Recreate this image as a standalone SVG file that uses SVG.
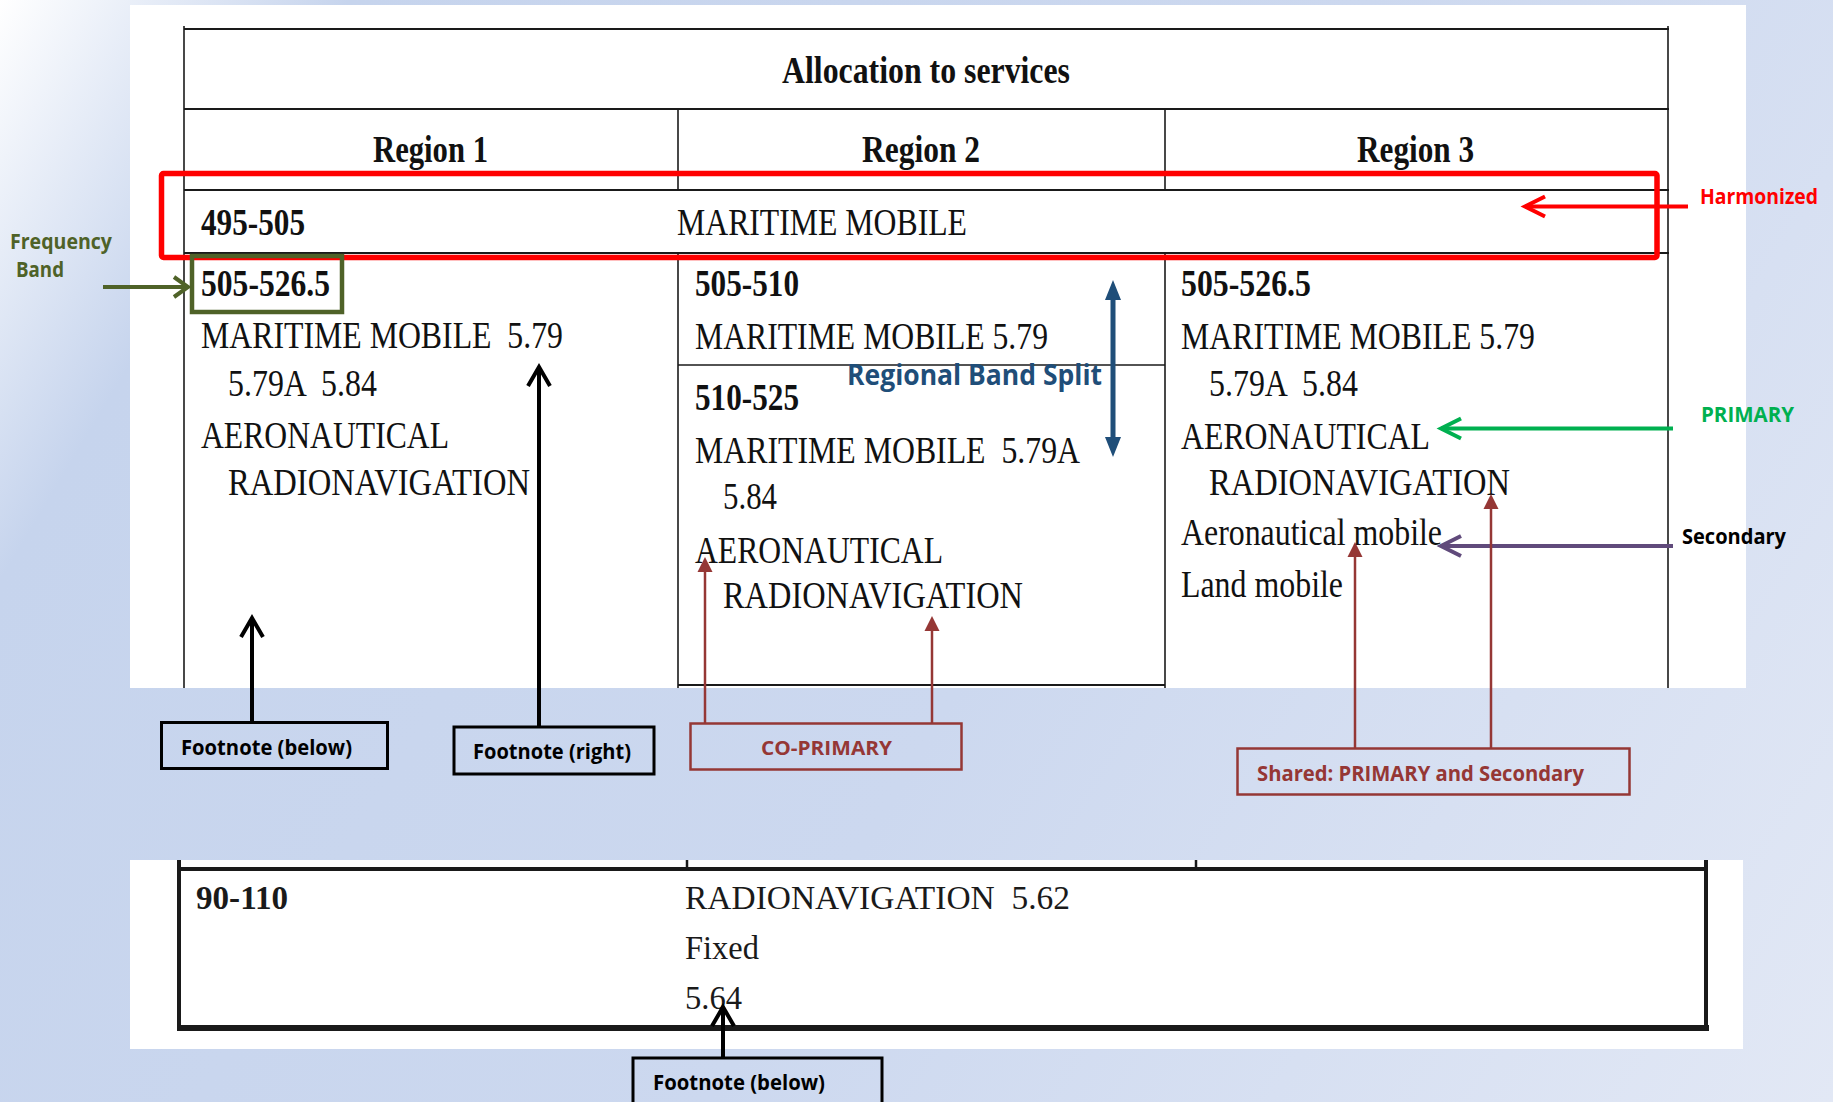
<svg xmlns="http://www.w3.org/2000/svg" width="1833" height="1102" viewBox="0 0 1833 1102" xml:space="preserve">
<style>
.t{font-family:"Liberation Serif","Times New Roman",serif;font-size:38px;fill:#111;white-space:pre}
.lt{font-family:"Liberation Serif","Times New Roman",serif;font-size:34px;fill:#1a1a1a;white-space:pre}
.b{font-weight:bold}
.lbl{font-family:"Open Sans","Liberation Sans",sans-serif;font-weight:bold}
.tl{stroke:#1a1a1a;stroke-width:2;fill:none}
.tv{stroke:#1a1a1a;stroke-width:1.6;fill:none}
.box{fill:none;stroke:#000;stroke-width:3}
.rbox{fill:none;stroke:#953735;stroke-width:2.5}
</style>
<defs>
<linearGradient id="bg" gradientUnits="userSpaceOnUse" x1="0" y1="0" x2="1833" y2="1102">
<stop offset="0" stop-color="#ffffff"/>
<stop offset="0.14" stop-color="#c6d4ed"/>
<stop offset="0.55" stop-color="#ccd8ef"/>
<stop offset="1" stop-color="#e2e8f5"/>
</linearGradient>
<marker id="chRed" markerUnits="userSpaceOnUse" viewBox="-24 -14 28 28" refX="0" refY="0" markerWidth="28" markerHeight="28" orient="auto" overflow="visible"><path d="M-20,-10 L0,0 L-20,10" fill="none" stroke="#ff0000" stroke-width="4"/></marker>
<marker id="chGreen" markerUnits="userSpaceOnUse" viewBox="-24 -14 28 28" refX="0" refY="0" markerWidth="28" markerHeight="28" orient="auto" overflow="visible"><path d="M-20,-10 L0,0 L-20,10" fill="none" stroke="#00b050" stroke-width="4"/></marker>
<marker id="chPurple" markerUnits="userSpaceOnUse" viewBox="-24 -14 28 28" refX="0" refY="0" markerWidth="28" markerHeight="28" orient="auto" overflow="visible"><path d="M-20,-10 L0,0 L-20,10" fill="none" stroke="#604a7b" stroke-width="4"/></marker>
<marker id="chOlive" markerUnits="userSpaceOnUse" viewBox="-24 -14 28 28" refX="0" refY="0" markerWidth="28" markerHeight="28" orient="auto" overflow="visible"><path d="M-14,-10 L0,0 L-14,10" fill="none" stroke="#4f6228" stroke-width="4"/></marker>
<marker id="chBlack" markerUnits="userSpaceOnUse" viewBox="-24 -14 28 28" refX="0" refY="0" markerWidth="28" markerHeight="28" orient="auto" overflow="visible"><path d="M-19,-11 L0,0 L-19,11" fill="none" stroke="#000" stroke-width="4"/></marker>
<marker id="triRed" markerUnits="userSpaceOnUse" viewBox="-10 -10 24 20" refX="0" refY="0" markerWidth="24" markerHeight="20" orient="auto" overflow="visible"><path d="M-5,-7.5 L10,0 L-5,7.5 Z" fill="#953735"/></marker>
<marker id="triBlue" markerUnits="userSpaceOnUse" viewBox="-10 -10 24 20" refX="0" refY="0" markerWidth="24" markerHeight="20" orient="auto-start-reverse" overflow="visible"><path d="M-8,-8 L12,0 L-8,8 Z" fill="#1f4e79"/></marker>
</defs>

<rect x="0" y="0" width="1833" height="1102" fill="url(#bg)"/>
<rect x="130" y="5" width="1616" height="683" fill="#ffffff"/>
<rect x="130" y="860" width="1613" height="189" fill="#ffffff"/>

<g id="allocation-table">
<line class="tl" x1="184" y1="29" x2="1669" y2="29"/>
<line class="tl" x1="184" y1="109" x2="1669" y2="109"/>
<line class="tl" x1="184" y1="190" x2="1669" y2="190"/>
<line class="tl" x1="184" y1="253" x2="1669" y2="253"/>
<line class="tv" x1="678" y1="365" x2="1165" y2="365"/>
<line class="tl" x1="678" y1="685" x2="1165" y2="685"/>
<line class="tv" x1="184" y1="26" x2="184" y2="688"/>
<line class="tv" x1="1668" y1="26" x2="1668" y2="688"/>
<line class="tv" x1="678" y1="109" x2="678" y2="190"/>
<line class="tv" x1="1165" y1="109" x2="1165" y2="190"/>
<line class="tv" x1="678" y1="253" x2="678" y2="688"/>
<line class="tv" x1="1165" y1="253" x2="1165" y2="688"/>
<text class="t b" x="782" y="83" textLength="288" lengthAdjust="spacingAndGlyphs">Allocation to services</text>
<text class="t b" x="373" y="162" textLength="115" lengthAdjust="spacingAndGlyphs">Region 1</text>
<text class="t b" x="862" y="162" textLength="118" lengthAdjust="spacingAndGlyphs">Region 2</text>
<text class="t b" x="1357" y="162" textLength="117" lengthAdjust="spacingAndGlyphs">Region 3</text>
<text class="t b" x="201" y="235" textLength="104" lengthAdjust="spacingAndGlyphs">495-505</text>
<text class="t" x="677" y="235" textLength="290" lengthAdjust="spacingAndGlyphs">MARITIME MOBILE</text>
<text class="t b" x="201" y="296" textLength="129" lengthAdjust="spacingAndGlyphs">505-526.5</text>
<text class="t" x="201" y="348" textLength="362" lengthAdjust="spacingAndGlyphs">MARITIME MOBILE  5.79</text>
<text class="t" x="228" y="396" textLength="149" lengthAdjust="spacingAndGlyphs">5.79A  5.84</text>
<text class="t" x="201" y="448" textLength="248" lengthAdjust="spacingAndGlyphs">AERONAUTICAL</text>
<text class="t" x="228" y="495" textLength="302" lengthAdjust="spacingAndGlyphs">RADIONAVIGATION</text>
<text class="t b" x="695" y="296" textLength="104" lengthAdjust="spacingAndGlyphs">505-510</text>
<text class="t" x="695" y="349" textLength="353" lengthAdjust="spacingAndGlyphs">MARITIME MOBILE 5.79</text>
<text class="t b" x="695" y="410" textLength="104" lengthAdjust="spacingAndGlyphs">510-525</text>
<text class="t" x="695" y="463" textLength="385" lengthAdjust="spacingAndGlyphs">MARITIME MOBILE  5.79A</text>
<text class="t" x="723" y="509" textLength="54" lengthAdjust="spacingAndGlyphs">5.84</text>
<text class="t" x="695" y="563" textLength="248" lengthAdjust="spacingAndGlyphs">AERONAUTICAL</text>
<text class="t" x="723" y="608" textLength="300" lengthAdjust="spacingAndGlyphs">RADIONAVIGATION</text>
<text class="t b" x="1181" y="296" textLength="130" lengthAdjust="spacingAndGlyphs">505-526.5</text>
<text class="t" x="1181" y="349" textLength="354" lengthAdjust="spacingAndGlyphs">MARITIME MOBILE 5.79</text>
<text class="t" x="1209" y="396" textLength="149" lengthAdjust="spacingAndGlyphs">5.79A  5.84</text>
<text class="t" x="1181" y="449" textLength="249" lengthAdjust="spacingAndGlyphs">AERONAUTICAL</text>
<text class="t" x="1209" y="495" textLength="301" lengthAdjust="spacingAndGlyphs">RADIONAVIGATION</text>
<text class="t" x="1181" y="545" textLength="261" lengthAdjust="spacingAndGlyphs">Aeronautical mobile</text>
<text class="t" x="1181" y="597" textLength="162" lengthAdjust="spacingAndGlyphs">Land mobile</text>
</g>

<g id="lower-table">
<line x1="687" y1="860" x2="687" y2="869" stroke="#1a1a1a" stroke-width="2.5"/>
<line x1="1196" y1="860" x2="1196" y2="869" stroke="#1a1a1a" stroke-width="2.5"/>
<line x1="179" y1="860" x2="179" y2="1031" stroke="#1a1a1a" stroke-width="4"/>
<line x1="1706" y1="860" x2="1706" y2="1031" stroke="#1a1a1a" stroke-width="4"/>
<line x1="177" y1="869" x2="1708" y2="869" stroke="#1a1a1a" stroke-width="4"/>
<line x1="177" y1="1028" x2="1709" y2="1028" stroke="#1a1a1a" stroke-width="6"/>
<text class="lt b" x="196" y="909" textLength="92" lengthAdjust="spacingAndGlyphs">90-110</text>
<text class="lt" x="685" y="909" textLength="385" lengthAdjust="spacingAndGlyphs">RADIONAVIGATION  5.62</text>
<text class="lt" x="685" y="959" textLength="74" lengthAdjust="spacingAndGlyphs">Fixed</text>
<text class="lt" x="685" y="1009" textLength="57" lengthAdjust="spacingAndGlyphs">5.64</text>
</g>

<g id="harmonized-frame">
<rect x="161.5" y="173.5" width="1495.5" height="84" rx="2" fill="none" stroke="#ff0000" stroke-width="5.5"/>
</g>
<g id="frequency-band-frame">
<rect x="192" y="256" width="150" height="56" fill="none" stroke="#4f6228" stroke-width="4.5"/>
</g>

<g id="connectors">
<line x1="103" y1="287" x2="188" y2="287" stroke="#4f6228" stroke-width="4" marker-end="url(#chOlive)"/>
<line x1="1688" y1="206.5" x2="1525" y2="206.5" stroke="#ff0000" stroke-width="4" marker-end="url(#chRed)"/>
<line x1="1673" y1="428.5" x2="1441" y2="428.5" stroke="#00b050" stroke-width="4" marker-end="url(#chGreen)"/>
<line x1="1673" y1="546" x2="1441" y2="546" stroke="#604a7b" stroke-width="4" marker-end="url(#chPurple)"/>
<line x1="1113" y1="292" x2="1113" y2="445" stroke="#1f4e79" stroke-width="5" marker-start="url(#triBlue)" marker-end="url(#triBlue)"/>
<line x1="252" y1="722" x2="252" y2="618" stroke="#000" stroke-width="4" marker-end="url(#chBlack)"/>
<line x1="539" y1="726" x2="539" y2="367" stroke="#000" stroke-width="4" marker-end="url(#chBlack)"/>
<line x1="723" y1="1058" x2="723" y2="1007" stroke="#000" stroke-width="4" marker-end="url(#chBlack)"/>
<line x1="705" y1="723" x2="705" y2="567" stroke="#953735" stroke-width="2.5" marker-end="url(#triRed)"/>
<line x1="932" y1="723" x2="932" y2="626" stroke="#953735" stroke-width="2.5" marker-end="url(#triRed)"/>
<line x1="1355" y1="748" x2="1355" y2="552" stroke="#953735" stroke-width="2.5" marker-end="url(#triRed)"/>
<line x1="1491" y1="748" x2="1491" y2="504" stroke="#953735" stroke-width="2.5" marker-end="url(#triRed)"/>
</g>

<g id="label-frequency-band">
<text class="lbl" x="10" y="249" font-size="21" fill="#4f6228" textLength="102" lengthAdjust="spacingAndGlyphs">Frequency</text>
<text class="lbl" x="16" y="277" font-size="21" fill="#4f6228" textLength="48" lengthAdjust="spacingAndGlyphs">Band</text>
</g>
<g id="label-harmonized">
<text class="lbl" x="1700" y="204" font-size="21" fill="#ff0000" textLength="118" lengthAdjust="spacingAndGlyphs">Harmonized</text>
</g>
<g id="label-primary">
<text class="lbl" x="1701" y="422" font-size="21" fill="#00b050" textLength="93" lengthAdjust="spacingAndGlyphs">PRIMARY</text>
</g>
<g id="label-secondary">
<text class="lbl" x="1682" y="544" font-size="21" fill="#000" textLength="104" lengthAdjust="spacingAndGlyphs">Secondary</text>
</g>
<g id="label-regional-band-split">
<text class="lbl" x="847" y="385" font-size="28" fill="#1f4e79" textLength="255" lengthAdjust="spacingAndGlyphs">Regional Band Split</text>
</g>
<g id="footnote-below-1">
<rect class="box" x="161.5" y="722.5" width="226" height="46"/>
<text class="lbl" x="181" y="755" font-size="21" fill="#000" textLength="171" lengthAdjust="spacingAndGlyphs">Footnote (below)</text>
</g>
<g id="footnote-right">
<rect class="box" x="454" y="727" width="200" height="47" stroke-width="3.5"/>
<text class="lbl" x="473" y="759" font-size="21" fill="#000" textLength="158" lengthAdjust="spacingAndGlyphs">Footnote (right)</text>
</g>
<g id="co-primary">
<rect class="rbox" x="690.5" y="723.5" width="271" height="46"/>
<text class="lbl" x="761" y="755" font-size="20" fill="#953735" textLength="131" lengthAdjust="spacingAndGlyphs">CO-PRIMARY</text>
</g>
<g id="shared">
<rect class="rbox" x="1237.5" y="748.5" width="392" height="46"/>
<text class="lbl" x="1257" y="781" font-size="22" fill="#953735" textLength="327" lengthAdjust="spacingAndGlyphs">Shared: PRIMARY and Secondary</text>
</g>
<g id="footnote-below-2">
<rect class="box" x="633" y="1058" width="249" height="60"/>
<text class="lbl" x="653" y="1090" font-size="21" fill="#000" textLength="172" lengthAdjust="spacingAndGlyphs">Footnote (below)</text>
</g>
</svg>
